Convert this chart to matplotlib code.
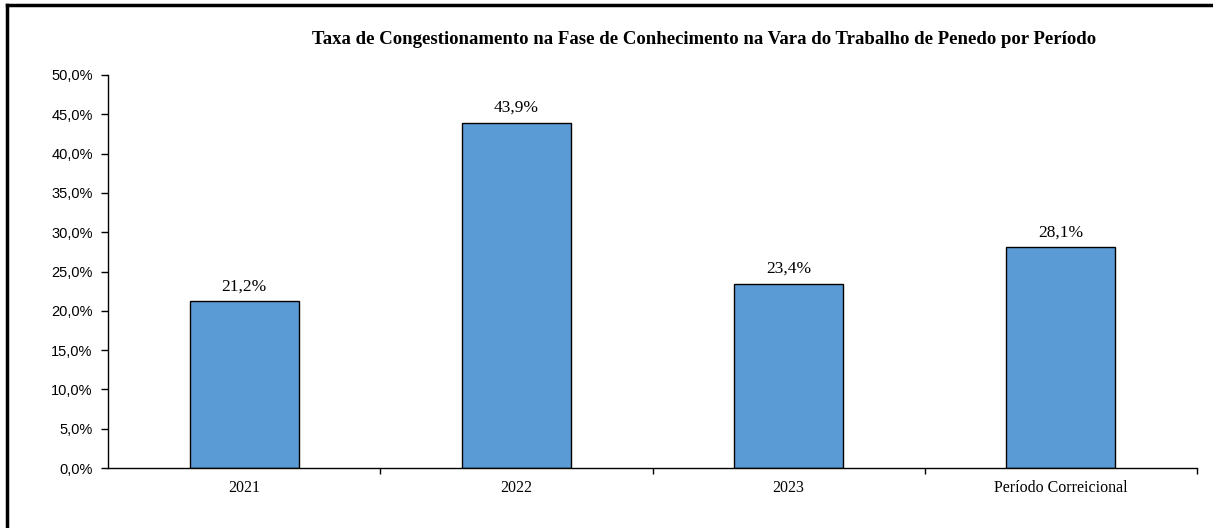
import matplotlib
matplotlib.use("Agg")
import matplotlib.pyplot as plt
from matplotlib.lines import Line2D
from matplotlib.ticker import FuncFormatter, MultipleLocator, FixedLocator

categories = ["2021", "2022", "2023", "Período Correicional"]
values = [21.2, 43.9, 23.4, 28.1]
title = "Taxa de Congestionamento na Fase de Conhecimento na Vara do Trabalho de Penedo por Período"

fig = plt.figure(figsize=(12.13, 5.28), dpi=100)
ax = fig.add_axes([108/1213, 1 - 468/528, (1197-108)/1213, (468-75)/528])

x = list(range(len(categories)))
ax.bar(x, values, width=0.4, color="#5B9BD5", edgecolor="black", linewidth=1.0, zorder=2)

for xi, v in zip(x, values):
    ax.annotate(f"{v:.1f}%".replace(".", ","), (xi, v), xytext=(0, 5), textcoords="offset points",
                ha="center", va="bottom", fontsize=12.5, family="Liberation Serif")

ax.set_xlim(-0.5, len(categories) - 0.5)
ax.set_ylim(0, 50)
ax.yaxis.set_major_locator(MultipleLocator(5))
ax.yaxis.set_major_formatter(FuncFormatter(lambda v, p: f"{v:.1f}%".replace(".", ",")))
for lab in ax.get_yticklabels():
    lab.set_family("Liberation Sans")
ax.tick_params(axis="y", labelsize=10.5, length=5, width=1, direction="out", pad=6)

ax.set_xticks(x)
ax.set_xticklabels(categories, family="Liberation Serif", fontsize=11.5)
ax.tick_params(axis="x", length=0, pad=9)
ax.xaxis.set_minor_locator(FixedLocator([i + 0.5 for i in x]))
ax.tick_params(axis="x", which="minor", length=4, width=1, direction="out")

for s in ["top", "right"]:
    ax.spines[s].set_visible(False)
for s in ["left", "bottom"]:
    ax.spines[s].set_linewidth(1)

fig.text(704/1213, 1 - 40/528, title, ha="center", va="center", fontsize=13.5,
         fontweight="bold", family="Liberation Serif")

# outer frame (left and top lines)
fig.add_artist(Line2D([7/1213, 7/1213], [0, 1 - 5/528], transform=fig.transFigure, color="black", linewidth=2.5))
fig.add_artist(Line2D([7/1213, 1], [1 - 5/528, 1 - 5/528], transform=fig.transFigure, color="black", linewidth=2.5))

fig.savefig("out.png", dpi=100)
